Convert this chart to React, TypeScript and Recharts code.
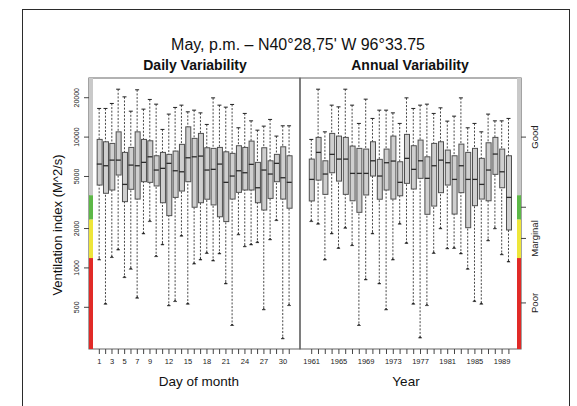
import { ComposedChart, Bar, Scatter, XAxis, YAxis, ReferenceArea } from 'recharts';

// day-of-month boxes (May, p.m.)
const days = [1, 2, 3, 4, 5, 6, 7, 8, 9, 10, 11, 12, 13, 14, 15, 16, 17, 18, 19, 20, 21, 22, 23, 24, 25, 26, 27, 28, 29, 30, 31];
const dayLow = [1150, 528, 1200, 1370, 843, 977, 587, 1820, 2260, 1220, 1500, 513, 553, 1750, 528, 1070, 1150, 1290, 1130, 1280, 755, 363, 1790, 1450, 1500, 1560, 478, 1640, 2300, 287, 515];
const dayQ1 = [4300, 3720, 3940, 5130, 3210, 3990, 3360, 4560, 4510, 4230, 3150, 2510, 3460, 3870, 4560, 2910, 3150, 3350, 3030, 2460, 2260, 3360, 3780, 3940, 3940, 3150, 2770, 3400, 4560, 3360, 2860];
const dayMed = [6220, 6040, 6670, 6670, 4350, 6110, 6040, 6410, 7070, 5600, 5770, 6300, 5530, 5430, 6950, 7070, 7160, 5600, 5670, 6220, 4510, 5040, 5530, 5340, 6190, 4100, 5600, 5220, 6300, 4890, 4510];
const dayQ3 = [9600, 9210, 8950, 10970, 7640, 8340, 10970, 9600, 9370, 7200, 7640, 7380, 7820, 8800, 11980, 9780, 10670, 8290, 8200, 8340, 7720, 7510, 8590, 8340, 9320, 6410, 8290, 6590, 7380, 8430, 7200];
const dayHigh = [16560, 16560, 18080, 23240, 20310, 15780, 23000, 16360, 19400, 17860, 11450, 14990, 16860, 17550, 15600, 16070, 15320, 12500, 19950, 17550, 16940, 17770, 11780, 15170, 13310, 11300, 12130, 13650, 10180, 12200, 12200];
const dayTickLabels = [1, 3, 5, 7, 9, 12, 15, 18, 21, 24, 27, 30];

// year boxes
const years = [1961, 1962, 1963, 1964, 1965, 1966, 1967, 1968, 1969, 1970, 1971, 1972, 1973, 1974, 1975, 1976, 1977, 1978, 1979, 1980, 1981, 1982, 1983, 1984, 1985, 1986, 1987, 1988, 1989, 1990];
const yearLow = [2260, 2160, 1150, 1820, 1410, 2010, 1480, 363, 810, 1820, 755, 478, 1150, 2160, 1540, 528, 291, 515, 1290, 1990, 1400, 1410, 1280, 977, 553, 528, 1610, 1990, 1260, 1110];
const yearQ1 = [3250, 4690, 3650, 5340, 4610, 3650, 3260, 2660, 3610, 5040, 3350, 3940, 3360, 3560, 4430, 4010, 4840, 2570, 2970, 3760, 4300, 2580, 3760, 2030, 2990, 3360, 3260, 5190, 4100, 1950];
const yearMed = [4750, 7640, 5220, 7380, 6790, 6790, 5280, 5280, 5280, 6590, 5040, 6370, 6560, 4510, 6880, 5670, 6590, 4840, 6040, 6670, 6370, 4750, 6040, 4750, 4750, 4350, 5600, 7420, 5430, 3460];
const yearQ3 = [6790, 9950, 6590, 10670, 10180, 9950, 8540, 8200, 8100, 9210, 6760, 8100, 10180, 6480, 10490, 8590, 9490, 7070, 8950, 9210, 7960, 7200, 8840, 7640, 8200, 6880, 9050, 9950, 8100, 7200];
const yearHigh = [9600, 23240, 10970, 17550, 17030, 23240, 17550, 12720, 19500, 13890, 16070, 16070, 15320, 12720, 19950, 16560, 17550, 17860, 15170, 16740, 13250, 14460, 19950, 11780, 12720, 10970, 14990, 13310, 13310, 13890];
const yearTickLabels = [1961, 1965, 1969, 1973, 1977, 1981, 1985, 1989];

const yTicks = [500, 1000, 2000, 5000, 10000, 20000];
const yDomain = [240, 28300];

// ventilation quality zones
const zoneLow = [240, 1190, 2350, 3600];
const zoneHigh = [1190, 2350, 3600, 28300];
const zoneColors = ['#e12a27', '#eee63a', '#5db847', '#c9c9c9'];
const qualityTicks = [540, 1680, 2910, 10000];
const qualityLabels = ['Poor', 'Marginal', '', 'Good'];

const FONT = '"Liberation Sans", Arial, Helvetica, sans-serif';

type Row = { x: number; low: number; q1: number; med: number; q3: number; high: number };

const makeRows = (xs: number[], lo: number[], q1: number[], md: number[], q3: number[], hi: number[]): Row[] =>
  xs.map((x, i) => ({ x, low: lo[i], q1: q1[i], med: md[i], q3: q3[i], high: hi[i] }));

const dayRows = makeRows(days, dayLow, dayQ1, dayMed, dayQ3, dayHigh);
const yearRows = makeRows(years, yearLow, yearQ1, yearMed, yearQ3, yearHigh);

const Whisker = (p: any) => {
  const { x, y, width, height } = p;
  if (x == null || y == null) return <g />;
  const cx = x + width / 2;
  const top = Math.min(y, y + height);
  const bot = Math.max(y, y + height);
  return (
    <g>
      <line x1={cx} x2={cx} y1={top} y2={bot} stroke="#333" strokeWidth={0.9} strokeDasharray="2 1.6" />
      <line x1={cx - 2} x2={cx + 2} y1={top} y2={top} stroke="#222" strokeWidth={1} />
      <path d={`M${cx - 1.6},${bot} L${cx},${bot - 1.6} L${cx + 1.6},${bot} Z`} fill="#222" stroke="#222" strokeWidth={0.6} />
    </g>
  );
};

const BoxShape = (p: any) => {
  const { x, y, width, height } = p;
  if (x == null || y == null) return <g />;
  const top = Math.min(y, y + height);
  return <rect x={x} y={top} width={width} height={Math.abs(height)} fill="#cfcfcf" stroke="#505050" strokeWidth={1} />;
};

const medianShape = (half: number) => (p: any) => (
  <line x1={p.cx - half} x2={p.cx + half} y1={p.cy} y2={p.cy} stroke="#2a2a2a" strokeWidth={1.3} />
);

const xTick = (labels: number[]) => (p: any) => {
  const v = p.payload?.value;
  if (!labels.includes(v)) return <g />;
  return (
    <text x={p.x} y={p.y + 8} textAnchor="middle" fontSize={7.5} fontFamily={FONT} fill="#222">
      {v}
    </text>
  );
};

const leftYTick = (p: any) => {
  const cx = p.x - 5;
  return (
    <text x={cx} y={p.y} transform={`rotate(-90 ${cx} ${p.y})`} textAnchor="middle" dominantBaseline="central" fontSize={7} fontFamily={FONT} fill="#222">
      {p.payload?.value}
    </text>
  );
};

const rightYTick = (p: any) => {
  const i = qualityTicks.indexOf(p.payload?.value);
  const label = i >= 0 ? qualityLabels[i] : '';
  const cx = p.x + 7;
  return (
    <text x={cx} y={p.y} transform={`rotate(-90 ${cx} ${p.y})`} textAnchor="middle" dominantBaseline="central" fontSize={9.5} fontFamily={FONT} fill="#222">
      {label}
    </text>
  );
};

interface PanelProps {
  rows: Row[];
  cats: number[];
  labels: number[];
  domain: [number, number];
  zoneX: [number, number];
  side: 'left' | 'right';
  margin: { top: number; right: number; bottom: number; left: number };
}

function Panel({ rows, cats, labels, domain, zoneX, side, margin }: PanelProps) {
  return (
    <div style={{ position: 'absolute', left: 0, top: 0 }}>
      <ComposedChart width={577} height={406} data={rows} margin={margin}>
        <XAxis
          xAxisId="x"
          type="number"
          dataKey="x"
          domain={domain}
          allowDataOverflow
          ticks={cats}
          interval={0}
          height={30}
          tickSize={5}
          axisLine={false}
          tickLine={{ stroke: '#444' }}
          tick={xTick(labels)}
        />
        <XAxis xAxisId="w" type="number" dataKey="x" domain={domain} allowDataOverflow ticks={cats} height={0} hide />
        {side === 'left' ? (
          <YAxis
            type="number"
            scale="log"
            domain={yDomain}
            allowDataOverflow
            ticks={yTicks}
            interval={0}
            width={40}
            tickSize={5}
            axisLine={false}
            tickLine={{ stroke: '#444' }}
            tick={leftYTick}
          />
        ) : (
          <YAxis
            type="number"
            orientation="right"
            scale="log"
            domain={yDomain}
            allowDataOverflow
            ticks={qualityTicks}
            interval={0}
            width={40}
            tickSize={5}
            axisLine={false}
            tickLine={{ stroke: '#444' }}
            tick={rightYTick}
          />
        )}
        <ReferenceArea
          xAxisId="x"
          x1={domain[0]}
          x2={domain[1]}
          y1={yDomain[0]}
          y2={yDomain[1]}
          fill="none"
          stroke="#666"
          strokeWidth={1.2}
          ifOverflow="visible"
        />
        {zoneLow.map((lo, i) => (
          <ReferenceArea
            key={i}
            xAxisId="x"
            x1={zoneX[0]}
            x2={zoneX[1]}
            y1={lo}
            y2={zoneHigh[i]}
            fill={zoneColors[i]}
            fillOpacity={1}
            stroke="none"
            ifOverflow="visible"
          />
        ))}
        <Bar xAxisId="w" dataKey={(r: Row) => [r.low, r.high]} barSize={4} shape={Whisker} isAnimationActive={false} />
        <Bar xAxisId="x" dataKey={(r: Row) => [r.q1, r.q3]} barSize={5} shape={BoxShape} isAnimationActive={false} />
        <Scatter xAxisId="x" dataKey="med" shape={medianShape(2.5)} isAnimationActive={false} />
      </ComposedChart>
    </div>
  );
}

const text = (s: React.CSSProperties) => ({ position: 'absolute' as const, fontFamily: FONT, color: '#111', whiteSpace: 'nowrap' as const, lineHeight: 1, ...s });

export default function App() {
  return (
    <div style={{ position: 'absolute', left: 0, top: 0, width: 577, height: 406, background: '#fff', overflow: 'hidden' }}>
      <div style={{ position: 'absolute', left: 22, top: 9, width: 548, height: 440, border: '1.5px solid #2b2b2b', boxSizing: 'border-box' }} />
      <Panel
        rows={dayRows}
        cats={days}
        labels={dayTickLabels}
        domain={[-0.63, 32.7]}
        zoneX={[-0.63, 0]}
        side="left"
        margin={{ top: 78, right: 277, bottom: 27, left: 49 }}
      />
      <Panel
        rows={yearRows}
        cats={years}
        labels={yearTickLabels}
        domain={[1959.28, 1991.78]}
        zoneX={[1991.19, 1991.78]}
        side="right"
        margin={{ top: 78, right: 16, bottom: 27, left: 300 }}
      />
      <div style={text({ left: 98, width: 400, top: 37, fontSize: 16, textAlign: 'center' })}>
        May, p.m. – N40°28,75' W 96°33.75
      </div>
      <div style={text({ left: 95, width: 200, top: 58, fontSize: 14, fontWeight: 'bold', textAlign: 'center' })}>
        Daily Variability
      </div>
      <div style={text({ left: 310, width: 200, top: 58, fontSize: 14, fontWeight: 'bold', textAlign: 'center' })}>
        Annual Variability
      </div>
      <div style={text({ left: 99, width: 200, top: 375, fontSize: 13.5, textAlign: 'center' })}>Day of month</div>
      <div style={text({ left: 306, width: 200, top: 375, fontSize: 13.5, textAlign: 'center' })}>Year</div>
      <div style={text({ left: 57, top: 225, fontSize: 13, transform: 'translate(-50%, -50%) rotate(-90deg)' })}>
        Ventilation index (M^2/s)
      </div>
    </div>
  );
}
